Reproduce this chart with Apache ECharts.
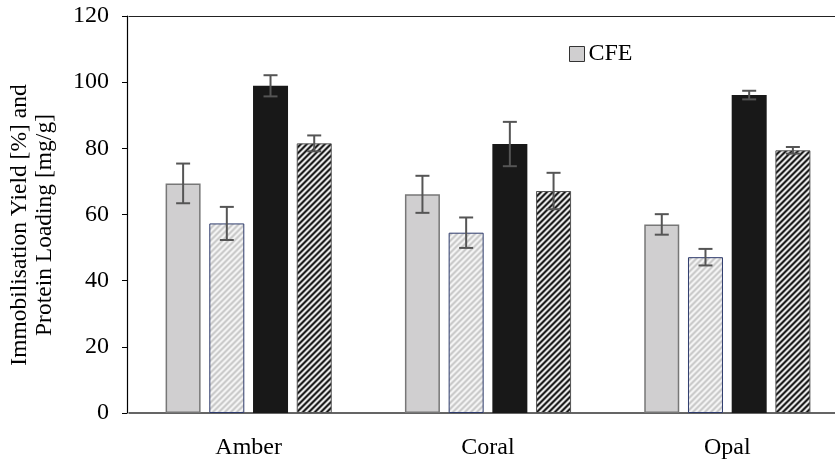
<!DOCTYPE html>
<html>
<head>
<meta charset="utf-8">
<script src="https://cdn.jsdelivr.net/npm/echarts@6/dist/echarts.min.js"></script>
<style>
html,body{margin:0;padding:0;background:#fff;overflow:hidden;}
#chart{width:847px;height:464px;}
</style>
</head>
<body>
<div id="chart"></div>
<script>
// ---- data ----
const categories = ['Amber', 'Coral', 'Opal'];
const seriesNames = ['CFE', 'CFE (loading)', 'Purified', 'Purified (loading)'];
const cfeYield = [69.4, 66.1, 57.0];
const cfeLoading = [57.3, 54.5, 47.1];
const purYield = [98.9, 81.3, 96.1];
const purLoading = [81.5, 67.1, 79.4];
const cfeYieldErr = [6.0, 5.6, 3.1];
const cfeLoadingErr = [5.0, 4.6, 2.5];
const purYieldErr = [3.2, 6.7, 1.3];
const purLoadingErr = [2.4, 5.5, 1.0];
const yTicks = { min: 0, max: 120, interval: 20 };
const legendItems = ['CFE'];

// ---- patterns ----
function stripes(dark, light, period) {
  const size = period * 4;
  const c = document.createElement('canvas');
  c.width = size; c.height = size;
  const ctx = c.getContext('2d');
  const img = ctx.createImageData(size, size);
  for (let y = 0; y < size; y++) {
    for (let x = 0; x < size; x++) {
      const t = 0.5 + 0.5 * Math.cos(2 * Math.PI * (x + y) / period);
      const i = (y * size + x) * 4;
      for (let k = 0; k < 3; k++) img.data[i + k] = Math.round(dark[k] * t + light[k] * (1 - t));
      img.data[i + 3] = 255;
    }
  }
  ctx.putImageData(img, 0, 0);
  return { image: c, repeat: 'repeat' };
}
const lightHatch = stripes([200, 200, 200], [246, 246, 246], 6);
const darkHatch = stripes([15, 15, 15], [245, 245, 245], 6);

const values = [cfeYield, cfeLoading, purYield, purLoading];
const errs = [cfeYieldErr, cfeLoadingErr, purYieldErr, purLoadingErr];
const styles = [
  { color: '#d0cfd0', borderColor: '#777777', borderWidth: 1.5 },
  { color: lightHatch, borderColor: '#2e3b6c', borderWidth: 1 },
  { color: '#181818', borderColor: '#181818', borderWidth: 0 },
  { color: darkHatch, borderColor: '#555555', borderWidth: 1 }
];
const BAR_W = 35, GAP = 8.7;

const series = [];
values.forEach((vals, si) => {
  series.push({
    name: seriesNames[si],
    type: 'bar',
    data: vals,
    barWidth: BAR_W,
    barGap: (GAP / BAR_W * 100).toFixed(1) + '%',
    itemStyle: styles[si],
    emphasis: { disabled: true },
    z: 2
  });
});
values.forEach((vals, si) => {
  const offset = (si - 1.5) * (BAR_W + GAP);
  series.push({
    type: 'custom',
    data: vals.map((v, ci) => [ci, v, errs[si][ci]]),
    encode: { x: 0, y: 1 },
    z: 5,
    silent: true,
    renderItem: function (params, api) {
      const c = api.value(0), v = api.value(1), e = api.value(2);
      const top = api.coord([c, v + e]);
      const bot = api.coord([c, v - e]);
      const x = top[0] + offset;
      const hw = 7;
      const st = { stroke: '#555555', lineWidth: 2 };
      return {
        type: 'group',
        children: [
          { type: 'line', shape: { x1: x, y1: top[1], x2: x, y2: bot[1] }, style: st },
          { type: 'line', shape: { x1: x - hw, y1: top[1], x2: x + hw, y2: top[1] }, style: st },
          { type: 'line', shape: { x1: x - hw, y1: bot[1], x2: x + hw, y2: bot[1] }, style: st }
        ]
      };
    }
  });
});

const FONT = '"Liberation Serif", "Times New Roman", serif';
const chart = echarts.init(document.getElementById('chart'), null, { renderer: 'canvas' });
chart.setOption({
  animation: false,
  backgroundColor: '#ffffff',
  grid: { left: 129, right: 0, top: 16, bottom: 51, containLabel: false },
  legend: {
    data: legendItems,
    left: 569, top: 42,
    itemWidth: 15, itemHeight: 15, itemGap: 6,
    icon: 'rect',
    itemStyle: { borderColor: '#333333', borderWidth: 1 },
    textStyle: { fontFamily: FONT, fontSize: 24, color: '#000', padding: [0, 0, 0, -1] },
    padding: 0,
    selectedMode: false
  },
  xAxis: [
    {
      type: 'category',
      data: categories,
      axisLine: { show: true, lineStyle: { color: '#333333', width: 1.5 } },
      axisTick: { show: false },
      axisLabel: { fontFamily: FONT, fontSize: 24, color: '#000', margin: 23 },
      splitLine: { show: false }
    },
    {
      type: 'category',
      data: categories,
      position: 'top',
      axisLine: { show: true, lineStyle: { color: '#222222', width: 1.2 } },
      axisTick: { show: false },
      axisLabel: { show: false },
      splitLine: { show: false }
    }
  ],
  yAxis: {
    type: 'value',
    min: yTicks.min, max: yTicks.max, interval: yTicks.interval,
    offset: 2,
    axisLine: { show: true, lineStyle: { color: '#000', width: 1.2 } },
    axisTick: { show: true, inside: false, length: 5, lineStyle: { color: '#000' } },
    axisLabel: { fontFamily: FONT, fontSize: 24, color: '#000', margin: 18 },
    splitLine: { show: false }
  },
  graphic: [
    {
      type: 'text',
      x: 32, y: 225,
      rotation: Math.PI / 2,
      style: {
        text: 'Immobilisation Yield [%] and\nProtein Loading [mg/g]',
        font: '23.5px ' + FONT,
        fill: '#000',
        align: 'center',
        verticalAlign: 'middle',
        lineHeight: 25
      }
    }
  ],
  series: series
});
</script>
</body>
</html>
